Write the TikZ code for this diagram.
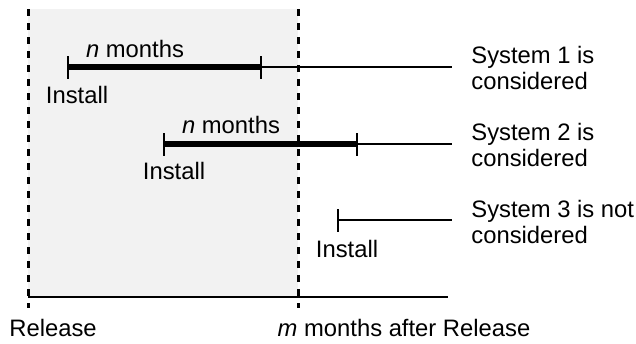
\documentclass[tikz,border=0pt]{standalone}
\usepackage{fontspec}
\setmainfont{Liberation Sans}
\usetikzlibrary{arrows.meta}
\definecolor{cc}{RGB}{242, 242, 242}

\begin{document}
\begin{tikzpicture}[x=0.5pt, y=-0.5pt,
  every node/.style={inner sep=0pt, font=\fontsize{11.9}{13}\selectfont},
  thin line/.style={line width=1.1pt, color=black},
  thick line/.style={line width=3pt, color=black},
  tickstart/.style={thin line, {Bar[width=11.5pt]}-},
  dashline/.style={line width=1.5pt, color=black, dash pattern=on 3.5pt off 3.5pt}]
\useasboundingbox (0,0) rectangle (636,343);
\fill [cc] (28,9) rectangle (298,297);
% time marks
\coordinate (rt) at (28,9);
\coordinate (rb) at (28,308);
\coordinate (mt) at (298,9);
\coordinate (mb) at (298,308);
\coordinate (ax) at (448,297);
\coordinate (a0) at (28,297);
\draw [dashline] (rt) to (rb);
\draw [dashline] (mt) to (mb);
\draw [thin line] (a0) to (ax);
% system 1
\coordinate (i1) at (67,67);
\coordinate (n1) at (260,67);
\coordinate (e1) at (452,67);
\draw [thick line] (i1) to (n1);
\draw [tickstart] (i1) to (n1);
\draw [tickstart] (n1) to (e1);
% system 2
\coordinate (i2) at (163,144);
\coordinate (n2) at (356,144);
\coordinate (e2) at (452,144);
\draw [thick line] (i2) to (n2);
\draw [tickstart] (i2) to (n2);
\draw [tickstart] (n2) to (e2);
% system 3
\coordinate (i3) at (337,220);
\coordinate (e3) at (452,220);
\draw [tickstart] (i3) to (e3);
% labels
\node (m1) [anchor=base] at (135,57) {\textit{n} months};
\node (m2) [anchor=base] at (231,133) {\textit{n} months};
\node (l1) [anchor=base] at (77,103) {Install};
\node (l2) [anchor=base] at (174,179) {Install};
\node (l3) [anchor=base] at (347,257) {Install};
\node (s1) [anchor=west, align=left] at (471,68) {System 1 is\\considered};
\node (s2) [anchor=west, align=left] at (471,145) {System 2 is\\considered};
\node (s3) [anchor=west, align=left] at (471,222) {System 3 is not\\considered};
\node (rel) [anchor=base] at (53,336) {Release};
\node (mrel) [anchor=base] at (404,336) {\textit{m} months after Release};
\end{tikzpicture}
\end{document}
